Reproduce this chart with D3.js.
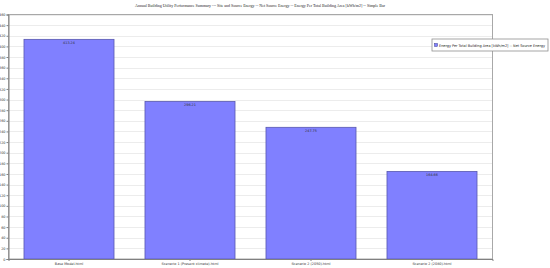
<!DOCTYPE html>
<html>
<head>
<meta charset="utf-8">
<script src="https://cdn.jsdelivr.net/npm/d3@7"></script>
<style>
  body { margin: 0; background: #fff; }
  svg { display: block; }
</style>
</head>
<body>
<script>
// chart data
var categories = ["Base Model.html", "Scenario 1 (Present climate).html", "Scenario 2 (2050).html", "Scenario 2 (2080).html"];
var values = [413.24, 296.21, 247.75, 164.66];
var yTicks = d3.range(0, 461, 20);
var title = "Annual Building Utility Performance Summary --- Site and Source Energy -- Net Source Energy -- Energy Per Total Building Area [kWh/m2] -- Simple Bar";
var seriesName = "Energy Per Total Building Area [kWh/m2] -- Net Source Energy";

var W = 550, H = 268;
var plot = {left: 8.5, right: 492.5, top: 14.5, bottom: 259};

var svg = d3.select("body").append("svg")
  .attr("width", W).attr("height", H);

var x = d3.scaleBand().domain(categories)
  .range([plot.left, plot.right])
  .paddingInner(0.256).paddingOuter(0.128);

var y = d3.scaleLinear().domain([0, 460]).range([plot.bottom, plot.top]);

// title
svg.append("text")
  .attr("x", 260).attr("y", 7)
  .attr("text-anchor", "middle")
  .attr("font-family", "Liberation Serif, serif")
  .attr("font-size", 4.4)
  .attr("textLength", 250).attr("lengthAdjust", "spacingAndGlyphs")
  .attr("fill", "#222")
  .text(title);

// grid lines
svg.append("g").selectAll("line").data(yTicks.slice(1))
  .enter().append("line")
  .attr("x1", plot.left).attr("x2", plot.right)
  .attr("y1", function(d) { return Math.round(y(d)) + 0.5; })
  .attr("y2", function(d) { return Math.round(y(d)) + 0.5; })
  .attr("stroke", "#ececec").attr("stroke-width", 1);

// plot border
svg.append("rect")
  .attr("x", plot.left).attr("y", plot.top)
  .attr("width", plot.right - plot.left).attr("height", plot.bottom - plot.top)
  .attr("fill", "none").attr("stroke", "#a8a8a8").attr("stroke-width", 1);

// bars
svg.append("g").selectAll("rect").data(values)
  .enter().append("rect")
  .attr("x", function(d, i) { return x(categories[i]); })
  .attr("y", function(d) { return y(d); })
  .attr("width", x.bandwidth())
  .attr("height", function(d) { return y(0) - y(d); })
  .attr("fill", "#8080ff")
  .attr("stroke", "#5858b0").attr("stroke-width", 0.8);

// value labels
svg.append("g").selectAll("text").data(values)
  .enter().append("text")
  .attr("x", function(d, i) { return x(categories[i]) + x.bandwidth() / 2; })
  .attr("y", function(d) { return y(d) + 4.5; })
  .attr("text-anchor", "middle")
  .attr("font-family", "DejaVu Sans, sans-serif")
  .attr("font-size", 3.4)
  .attr("fill", "#333")
  .text(function(d) { return d.toFixed(2); });

// y axis
var yAxis = svg.append("g")
  .attr("transform", "translate(" + plot.left + ",0)")
  .call(d3.axisLeft(y).tickValues(yTicks).tickSize(2).tickPadding(1));
yAxis.select(".domain").attr("stroke", "#808080");
yAxis.selectAll(".tick line").attr("stroke", "#808080");
yAxis.selectAll("text")
  .attr("font-family", "DejaVu Sans, sans-serif")
  .attr("font-size", 3.4).attr("fill", "#333");

// x axis
var xAxis = svg.append("g")
  .attr("transform", "translate(0," + plot.bottom + ")")
  .call(d3.axisBottom(x).tickSize(2).tickPadding(1.5));
xAxis.select(".domain").attr("stroke", "#808080");
xAxis.selectAll(".tick line").attr("stroke", "#808080");
xAxis.selectAll("text")
  .attr("font-family", "DejaVu Sans, sans-serif")
  .attr("font-size", 3.4).attr("fill", "#333");

// legend
var lg = svg.append("g").attr("transform", "translate(432,39)");
lg.append("rect")
  .attr("width", 116).attr("height", 12)
  .attr("fill", "#fff").attr("stroke", "#909090").attr("stroke-width", 0.8);
lg.append("rect")
  .attr("x", 2.5).attr("y", 4.5).attr("width", 3).attr("height", 3)
  .attr("fill", "#8080ff").attr("stroke", "#404090").attr("stroke-width", 0.5);
lg.append("text")
  .attr("x", 7).attr("y", 7.5)
  .attr("font-family", "DejaVu Sans, sans-serif")
  .attr("font-size", 3.6)
  .attr("textLength", 106).attr("lengthAdjust", "spacingAndGlyphs")
  .attr("fill", "#222")
  .text(seriesName);
</script>
</body>
</html>
